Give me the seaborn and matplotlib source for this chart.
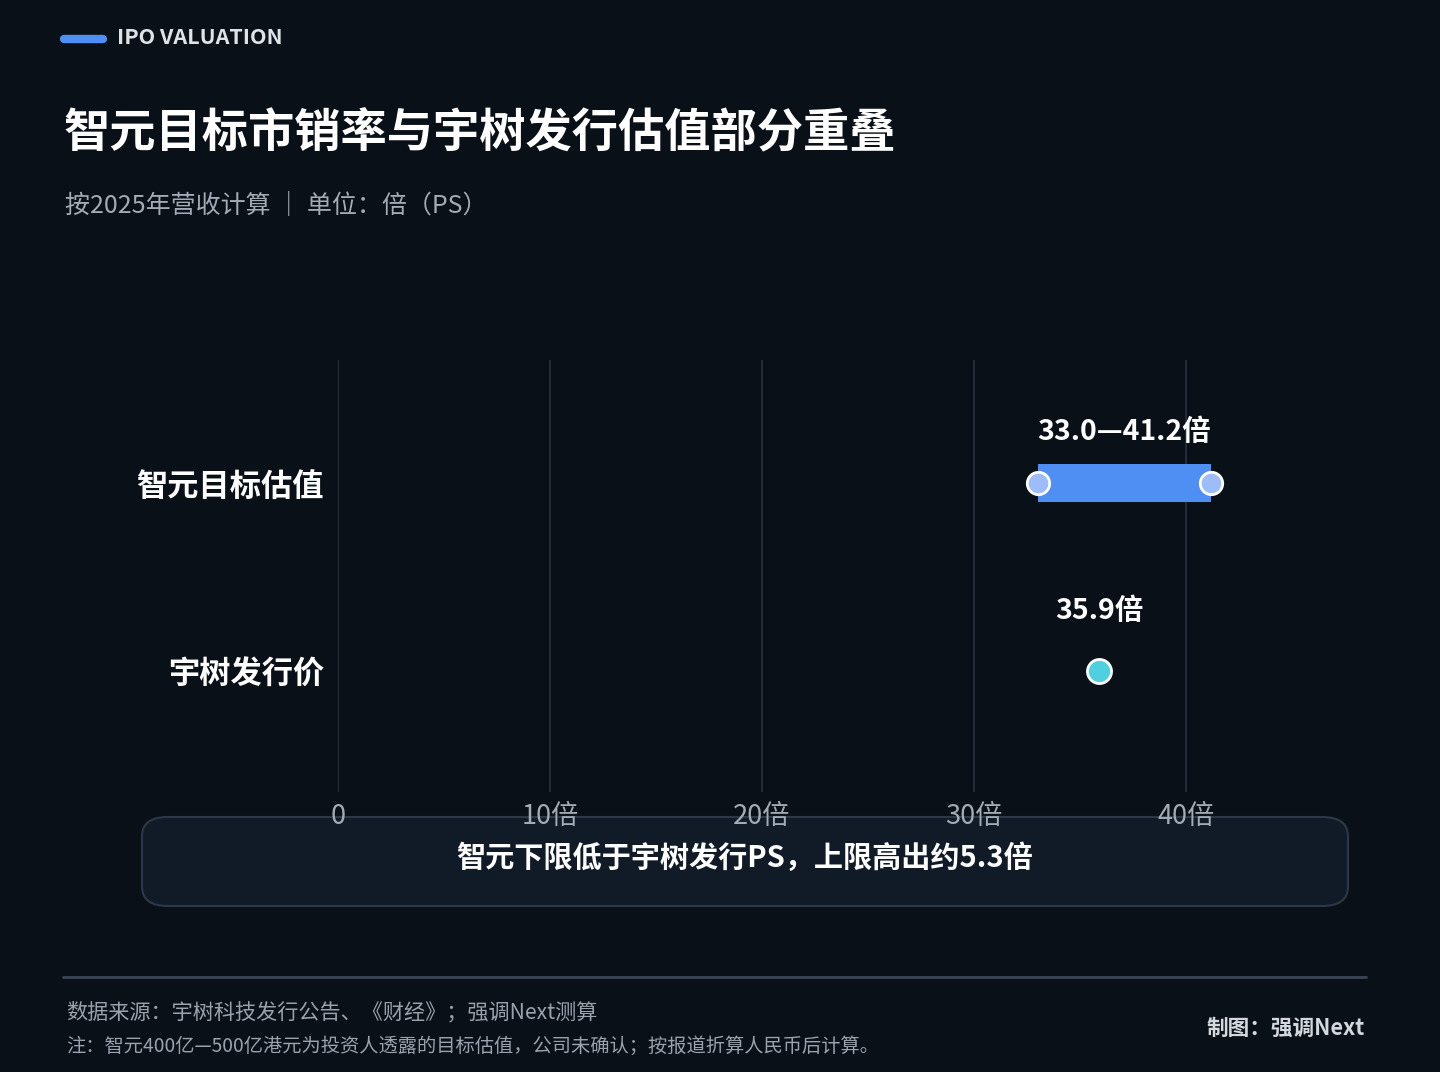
"""
IPO valuation comparison: target PS range vs. issue PS (dark theme card).
"""
import pandas as pd
import matplotlib.pyplot as plt
import seaborn as sns
from matplotlib.patches import FancyBboxPatch
from matplotlib.lines import Line2D

# Data
categories = ["智元目标估值", "宇树发行价"]
range_low = [33.0, None]
range_high = [41.2, None]
point_values = [None, 35.9]
value_labels = ["33.0—41.2倍", "35.9倍"]
x_ticks = [0, 10, 20, 30, 40]
x_tick_labels = ["0", "10倍", "20倍", "30倍", "40倍"]

BG = "#0a1017"
GRID = "#27313d"
BLUE = "#4f8ef2"
BLUE_LIGHT = "#9dbcfa"
CYAN = "#4fd0e0"
GREY = "#a3abb5"

sns.set_theme(style="dark")
plt.rcParams['font.family'] = ['Noto Sans CJK SC', 'DejaVu Sans']
plt.rcParams['axes.unicode_minus'] = False

fig = plt.figure(figsize=(14.4, 10.72), dpi=100, facecolor=BG)
W, H = 1440, 1072

# axes: x=0 at px 338, x=40 at px 1186 ; y from 360 to 792
ax_left, ax_top, ax_bottom = 338, 360, 792
xmax = 47.0
px_per_unit = (1186 - 338) / 40
ax_right = ax_left + xmax * px_per_unit
ax = fig.add_axes([ax_left / W, 1 - ax_bottom / H,
                   (ax_right - ax_left) / W, (ax_bottom - ax_top) / H])
ax.set_facecolor(BG)

ypos = list(range(len(categories)))
df_range = pd.DataFrame({"cat": categories, "y": ypos, "lo": range_low, "hi": range_high}).dropna()
df_point = pd.DataFrame({"cat": categories, "y": ypos, "v": point_values}).dropna()

# range bar
ax.barh(df_range["y"], df_range["hi"] - df_range["lo"], left=df_range["lo"],
        height=0.2, color=BLUE, linewidth=0, zorder=3)
ends = pd.concat([
    pd.DataFrame({"x": df_range["lo"], "y": df_range["y"]}),
    pd.DataFrame({"x": df_range["hi"], "y": df_range["y"]}),
])
sns.scatterplot(data=ends, x="x", y="y", s=260, color=BLUE_LIGHT,
                edgecolor="white", linewidth=2, ax=ax, zorder=4, legend=False)
sns.scatterplot(data=df_point, x="v", y="y", s=300, color=CYAN,
                edgecolor="white", linewidth=2, ax=ax, zorder=4, legend=False)

# value labels (range label sits closer to its bar than the point label)
label_offsets = [0.27, 0.32]
for i, lab in enumerate(value_labels):
    if range_low[i] is not None:
        xc = (range_low[i] + range_high[i]) / 2
    else:
        xc = point_values[i]
    ax.text(xc, i - label_offsets[i], lab, ha="center", va="center", color="white",
            fontsize=20.5, fontweight="bold", zorder=5)

ax.set_xlim(0, xmax)
ax.set_ylim(1.644, -0.654)
ax.set_xticks(x_ticks)
ax.set_xticklabels(x_tick_labels)
ax.set_yticks(ypos)
ax.set_yticklabels(categories)
ax.tick_params(axis="x", length=0, pad=8, labelsize=19.5, labelcolor=GREY)
ax.tick_params(axis="y", length=0, pad=10, labelsize=22.5, labelcolor="white")
for t in ax.get_yticklabels():
    t.set_fontweight("bold")
ax.grid(axis="x", color=GRID, linewidth=1.2)
ax.grid(axis="y", visible=False)
for s in ax.spines.values():
    s.set_visible(False)
ax.set_xlabel("")
ax.set_ylabel("")

# header
def fx(px):
    return px / W

def fy(py):
    return 1 - py / H

fig.add_artist(Line2D([fx(64), fx(103)], [fy(39), fy(39)], color=BLUE,
                      linewidth=6, solid_capstyle="round"))
fig.text(fx(117), fy(38), "IPO VALUATION", color="#dfe3e8", fontsize=15.5,
         fontweight="bold", va="center", ha="left")
fig.text(fx(64), fy(133), "智元目标市销率与宇树发行估值部分重叠", color="white",
         fontsize=33.3, fontweight="bold", va="center", ha="left")
fig.text(fx(65), fy(206), "按2025年营收计算 ｜ 单位：倍（PS）", color=GREY,
         fontsize=18, va="center", ha="left")

# note box
box = FancyBboxPatch((fx(142), fy(906)), fx(1348) - fx(142), fy(817) - fy(906),
                     boxstyle="round,pad=0,rounding_size=0.018",
                     transform=fig.transFigure, facecolor="#111b27",
                     edgecolor="#2c3848", linewidth=1.5, zorder=0)
fig.add_artist(box)
fig.text(fx(744), fy(858), "智元下限低于宇树发行PS，上限高出约5.3倍", color="white",
         fontsize=21, fontweight="bold", va="center", ha="center")

# footer
fig.add_artist(Line2D([fx(63), fx(1366)], [fy(977), fy(977)], color="#3a4656",
                      linewidth=2))
fig.text(fx(66), fy(1012), "数据来源：宇树科技发行公告、《财经》；强调Next测算",
         color="#9aa3ad", fontsize=15.2, va="center", ha="left")
fig.text(fx(66), fy(1046), "注：智元400亿—500亿港元为投资人透露的目标估值，公司未确认；按报道折算人民币后计算。",
         color="#9aa3ad", fontsize=13.85, va="center", ha="left")
fig.text(fx(1365), fy(1028), "制图：强调Next", color="#d3d8de", fontsize=15.6,
         fontweight="bold", va="center", ha="right")

fig.savefig("out.png", dpi=100, facecolor=BG)
